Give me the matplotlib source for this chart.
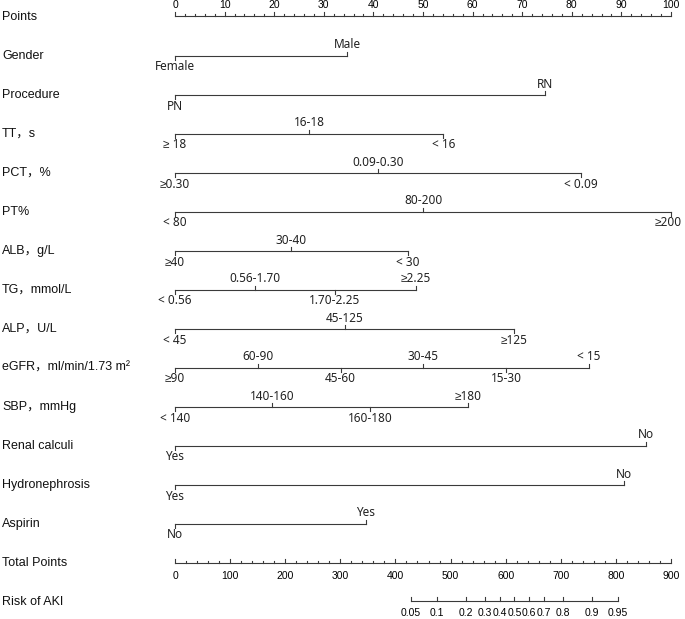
import numpy as np
import matplotlib
matplotlib.use("Agg")
import matplotlib.pyplot as plt
import matplotlib.transforms as mtransforms

# row names (left column)
row_names = ["Points", "Gender", "Procedure", "TT，s", "PCT，%", "PT%", "ALB，g/L",
             "TG，mmol/L", "ALP，U/L", "eGFR，ml/min/1.73 m²", "SBP，mmHg",
             "Renal calculi", "Hydronephrosis", "Aspirin", "Total Points", "Risk of AKI"]

# variable levels and their points
gender_levels = ["Female", "Male"]
gender_pts = [0, 34.7]
procedure_levels = ["PN", "RN"]
procedure_pts = [0, 74.5]
tt_levels = ["≥ 18", "16-18", "< 16"]
tt_pts = [0, 27.1, 54.1]
pct_levels = ["≥0.30", "0.09-0.30", "< 0.09"]
pct_pts = [0, 40.9, 81.9]
pt_levels = ["< 80", "80-200", "≥200"]
pt_pts = [0, 50.1, 100]
alb_levels = ["≥40", "30-40", "< 30"]
alb_pts = [0, 23.4, 46.9]
tg_levels = ["< 0.56", "0.56-1.70", "1.70-2.25", "≥2.25"]
tg_pts = [0, 16.1, 32.2, 48.5]
alp_levels = ["< 45", "45-125", "≥125"]
alp_pts = [0, 34.2, 68.3]
egfr_levels = ["≥90", "60-90", "45-60", "30-45", "15-30", "< 15"]
egfr_pts = [0, 16.8, 33.4, 50.1, 66.8, 83.5]
sbp_levels = ["< 140", "140-160", "160-180", "≥180"]
sbp_pts = [0, 19.6, 39.4, 59.1]
renal_levels = ["Yes", "No"]
renal_pts = [0, 95.0]
hydro_levels = ["Yes", "No"]
hydro_pts = [0, 90.5]
aspirin_levels = ["No", "Yes"]
aspirin_pts = [0, 38.5]

# axes scales
points_ticks = list(range(0, 101, 10))
total_ticks = list(range(0, 901, 100))
risk_ticks = [0.05, 0.1, 0.2, 0.3, 0.4, 0.5, 0.6, 0.7, 0.8, 0.9, 0.95]
risk_labels = ["0.05", "0.1", "0.2", "0.3", "0.4", "0.5", "0.6", "0.7", "0.8", "0.9", "0.95"]
lp_intercept = -9.657
lp_slope = 0.01568

LINE = "#3a3a3a"
ROW_FONT = ["Liberation Sans", "Noto Sans CJK SC", "DejaVu Sans"]
LVL_FONT = ["Noto Sans", "Liberation Sans", "DejaVu Sans"]
NUM_FONT = ["Liberation Sans", "DejaVu Sans"]

fig = plt.figure(figsize=(6.85, 6.19), dpi=100)
ax = fig.add_axes([175 / 685, 0, 496 / 685, 1])
ax.set_xlim(0, 100)
ax.set_ylim(619, 0)
ax.axis("off")

row_y = [17 + 39 * i for i in range(len(row_names))]
lab_tr = mtransforms.blended_transform_factory(fig.transFigure, ax.transData)
for name, y in zip(row_names, row_y):
    ax.text(2 / 685, y, name, transform=lab_tr, family=ROW_FONT, fontsize=9,
            ha="left", va="center", color="#111111")

# Points axis
y0 = 16
ax.plot([0, 100], [y0, y0], color=LINE, lw=0.8, clip_on=False)
for t in np.arange(0, 101, 2):
    L = 4 if t % 10 == 0 else 2
    ax.plot([t, t], [y0, y0 - L], color=LINE, lw=0.8, clip_on=False)
for t in points_ticks:
    ax.text(t, 5, str(t), family=NUM_FONT, fontsize=7.5, ha="center", va="center")

# variable axes
variables = [
    (gender_levels, gender_pts), (procedure_levels, procedure_pts), (tt_levels, tt_pts),
    (pct_levels, pct_pts), (pt_levels, pt_pts), (alb_levels, alb_pts), (tg_levels, tg_pts),
    (alp_levels, alp_pts), (egfr_levels, egfr_pts), (sbp_levels, sbp_pts),
    (renal_levels, renal_pts), (hydro_levels, hydro_pts), (aspirin_levels, aspirin_pts),
]
for k, (levels, pts) in enumerate(variables):
    y = row_y[k + 1]
    ax.plot([min(pts), max(pts)], [y, y], color=LINE, lw=0.8, clip_on=False)
    for j, (lev, p) in enumerate(zip(levels, pts)):
        d = 1 if j % 2 == 0 else -1  # below / above
        ax.plot([p, p], [y, y + 4 * d], color=LINE, lw=0.8, clip_on=False)
        # keep the label at the right end inside the figure
        px = p - 0.6 if p >= 99 else p
        ax.text(px, y + 11 * d, lev, family=LVL_FONT, fontsize=8.5, ha="center",
                va="center", color="#222222", clip_on=False)

# Total points axis
yt = 563
ax.plot([0, 100], [yt, yt], color=LINE, lw=0.8, clip_on=False)
for t in np.arange(0, 901, 20):
    L = 4 if t % 100 == 0 else 2
    ax.plot([t / 9, t / 9], [yt, yt - L], color=LINE, lw=0.8, clip_on=False)
for t in total_ticks:
    ax.text(t / 9, 576, str(t), family=NUM_FONT, fontsize=7.5, ha="center", va="center")

# Risk axis
yr = 601
risk_tp = [(np.log(p / (1 - p)) - lp_intercept) / lp_slope for p in risk_ticks]
ax.plot([risk_tp[0] / 9, risk_tp[-1] / 9], [yr, yr], color=LINE, lw=0.8, clip_on=False)
for tp, lab in zip(risk_tp, risk_labels):
    ax.plot([tp / 9, tp / 9], [yr, yr - 4], color=LINE, lw=0.8, clip_on=False)
    ax.text(tp / 9, 613, lab, family=NUM_FONT, fontsize=7.5, ha="center", va="center")

fig.savefig("out.png", dpi=100)
